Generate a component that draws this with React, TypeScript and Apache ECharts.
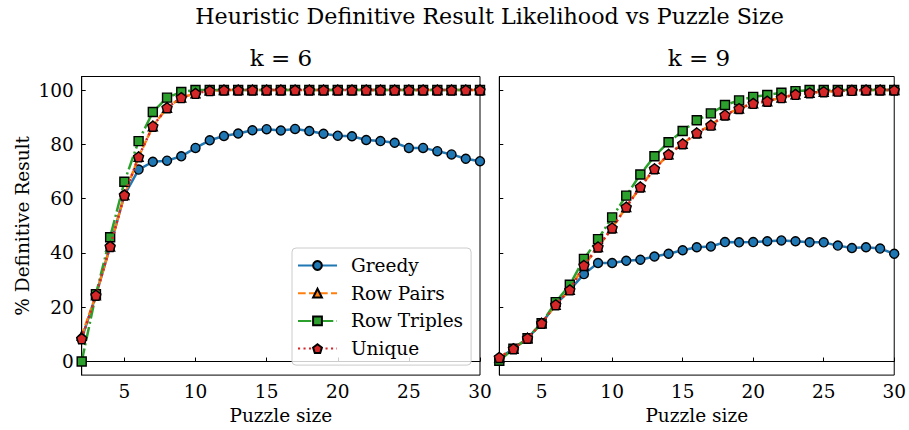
import React, { useEffect, useRef } from "react";
import * as echarts from "echarts";

const sizes = [2, 3, 4, 5, 6, 7, 8, 9, 10, 11, 12, 13, 14, 15, 16, 17, 18, 19, 20, 21, 22, 23, 24, 25, 26, 27, 28, 29, 30];

const greedy6 = [8.4, 24.4, 42.4, 61.3, 70.7, 73.6, 74.0, 75.6, 78.7, 81.5, 83.1, 84.0, 85.2, 85.6, 85.1, 85.7, 84.9, 83.9, 83.2, 83.0, 81.6, 81.2, 80.6, 78.7, 78.7, 77.5, 76.3, 74.7, 73.8];
const rowPairs6 = [9.5, 24.4, 42.4, 61.3, 75.4, 86.7, 93.5, 97.2, 98.8, 99.8, 100, 100, 100, 100, 100, 100, 100, 100, 100, 100, 100, 100, 100, 100, 100, 100, 100, 100, 100];
const rowTriples6 = [0, 24.8, 45.8, 66.2, 81.2, 91.9, 97.2, 99.3, 100, 100, 100, 100, 100, 100, 100, 100, 100, 100, 100, 100, 100, 100, 100, 100, 100, 100, 100, 100, 100];
const unique6 = [8.4, 24.4, 42.4, 61.3, 75.4, 86.7, 93.5, 97.2, 98.8, 99.8, 100, 100, 100, 100, 100, 100, 100, 100, 100, 100, 100, 100, 100, 100, 100, 100, 100, 100, 100];

const greedy9 = [1.2, 4.7, 8.6, 14.1, 21.0, 26.4, 32.2, 36.3, 36.3, 37.1, 37.5, 38.7, 39.7, 41.0, 42.1, 42.4, 44.0, 43.9, 44.0, 44.3, 44.6, 44.3, 43.9, 43.9, 42.7, 41.8, 42.1, 41.6, 39.7];
const rowPairs9 = [1.5, 4.7, 8.6, 14.1, 20.9, 26.4, 35.4, 42.2, 49.2, 56.9, 64.3, 71.0, 76.3, 80.2, 84.2, 87.1, 90.8, 93.2, 95.1, 95.9, 97.2, 98.4, 99.0, 99.4, 99.6, 99.9, 100, 100, 100];
const rowTriples9 = [0.3, 4.7, 8.6, 14.1, 21.9, 28.3, 37.8, 45.1, 53.1, 61.1, 68.9, 75.6, 80.8, 84.9, 88.9, 91.4, 94.5, 96.2, 97.5, 98.2, 99.0, 99.6, 100, 100, 100, 100, 100, 100, 100];
const unique9 = [1.5, 4.7, 8.6, 14.1, 20.9, 26.4, 35.4, 42.2, 49.2, 56.9, 64.3, 71.0, 76.3, 80.2, 84.2, 87.1, 90.8, 93.2, 95.1, 95.9, 97.2, 98.4, 99.0, 99.4, 99.6, 99.9, 100, 100, 100];

const xTicks = [5, 10, 15, 20, 25, 30];
const yTicks = [0, 20, 40, 60, 80, 100];
const seriesNames = ["Greedy", "Row Pairs", "Row Triples", "Unique"];
const panelTitles = ["k = 6", "k = 9"];
const mainTitle = "Heuristic Definitive Result Likelihood vs Puzzle Size";
const xName = "Puzzle size";
const yName = "% Definitive Result";

const FONT = "DejaVu Serif";
const FS = 18.5;
const pentagon = "path://M50,0 L97.55,34.55 L79.39,90.45 L20.61,90.45 L2.45,34.55 Z";

const styles = [
  { color: "#1f77b4", symbol: "circle", size: 9, type: "solid" as any },
  { color: "#ff7f0e", symbol: "triangle", size: 9, type: [7.7, 3.3] },
  { color: "#2ca02c", symbol: "rect", size: 9, type: [13.3, 3.3, 2.1, 3.3] },
  { color: "#d62728", symbol: pentagon, size: 10, type: [2.1, 3.4] },
];

export default function App() {
  const ref = useRef<HTMLDivElement>(null);
  useEffect(() => {
    if (!ref.current) return;
    const chart = echarts.init(ref.current, null, { renderer: "svg" });
    const panels = [
      [greedy6, rowPairs6, rowTriples6, unique6],
      [greedy9, rowPairs9, rowTriples9, unique9],
    ];
    const series: any[] = [];
    panels.forEach((vals, p) => {
      vals.forEach((arr, i) => {
        const st = styles[i];
        series.push({
          type: "line",
          name: seriesNames[i],
          xAxisIndex: p,
          yAxisIndex: p,
          data: sizes.map((s, j) => [s, arr[j]]),
          symbol: st.symbol,
          symbolSize: st.size,
          showAllSymbol: true,
          lineStyle: { color: st.color, width: 2.5, type: st.type },
          itemStyle: { color: st.color, borderColor: "#000", borderWidth: 1.4 },
          z: 2 + i,
        });
      });
    });
    const grids = [
      { left: 81.7, top: 76.5, width: 398.3, height: 298.8 },
      { left: 499.3, top: 76.5, width: 399, height: 298.8 },
    ];
    const mkX = (i: number) => ({
      type: "value",
      gridIndex: i,
      min: 2,
      max: 30,
      name: xName,
      nameLocation: "middle",
      nameGap: 29,
      nameTextStyle: { fontFamily: FONT, fontSize: FS, color: "#000" },
      axisLine: { show: true, lineStyle: { color: "#000", width: 1 } },
      axisTick: { show: true, inside: true, length: 4, customValues: xTicks, lineStyle: { color: "#000" } },
      axisLabel: { show: true, customValues: xTicks, margin: 7, fontFamily: FONT, fontSize: FS, color: "#000" },
      splitLine: { show: false },
    });
    const mkY = (i: number) => ({
      type: "value",
      gridIndex: i,
      min: -5,
      max: 105,
      name: i === 0 ? yName : "",
      nameLocation: "middle",
      nameGap: 50,
      nameRotate: 90,
      nameTextStyle: { fontFamily: FONT, fontSize: FS, color: "#000" },
      axisLine: { show: true, lineStyle: { color: "#000", width: 1 } },
      axisTick: { show: true, inside: true, length: 4, customValues: yTicks, lineStyle: { color: "#000" } },
      axisLabel: { show: i === 0, customValues: yTicks, margin: 8, fontFamily: FONT, fontSize: FS, color: "#000" },
      splitLine: { show: false },
    });
    chart.setOption({
      animation: false,
      backgroundColor: "#fff",
      grid: grids.map((g) => ({ ...g, show: true, borderColor: "#000", borderWidth: 1, backgroundColor: "transparent" })),
      xAxis: [mkX(0), mkX(1)],
      yAxis: [mkY(0), mkY(1)],
      legend: {
        data: seriesNames,
        orient: "vertical",
        left: 292,
        top: 248,
        itemWidth: 39,
        itemHeight: 11,
        itemGap: 8.7,
        padding: [8, 8, 7, 5],
        backgroundColor: "rgba(255,255,255,0.8)",
        borderColor: "#cccccc",
        borderWidth: 1,
        borderRadius: 4,
        textStyle: { fontFamily: FONT, fontSize: FS, color: "#000", padding: [0, 0, 0, 9], lineHeight: 19 },
        selectedMode: false,
      },
      graphic: [
        { type: "text", x: 489.5, y: 16, style: { text: mainTitle, fontFamily: FONT, fontSize: 22.2, fill: "#000", textAlign: "center", textVerticalAlign: "middle" } },
        { type: "text", x: 281, y: 58, style: { text: panelTitles[0], fontFamily: FONT, fontSize: 23, fill: "#000", textAlign: "center", textVerticalAlign: "middle" } },
        { type: "text", x: 699, y: 58, style: { text: panelTitles[1], fontFamily: FONT, fontSize: 23, fill: "#000", textAlign: "center", textVerticalAlign: "middle" } },
      ],
      series,
    });
    return () => chart.dispose();
  }, []);
  return <div ref={ref} style={{ position: "fixed", left: 0, top: 0, width: 909, height: 430 }} />;
}
